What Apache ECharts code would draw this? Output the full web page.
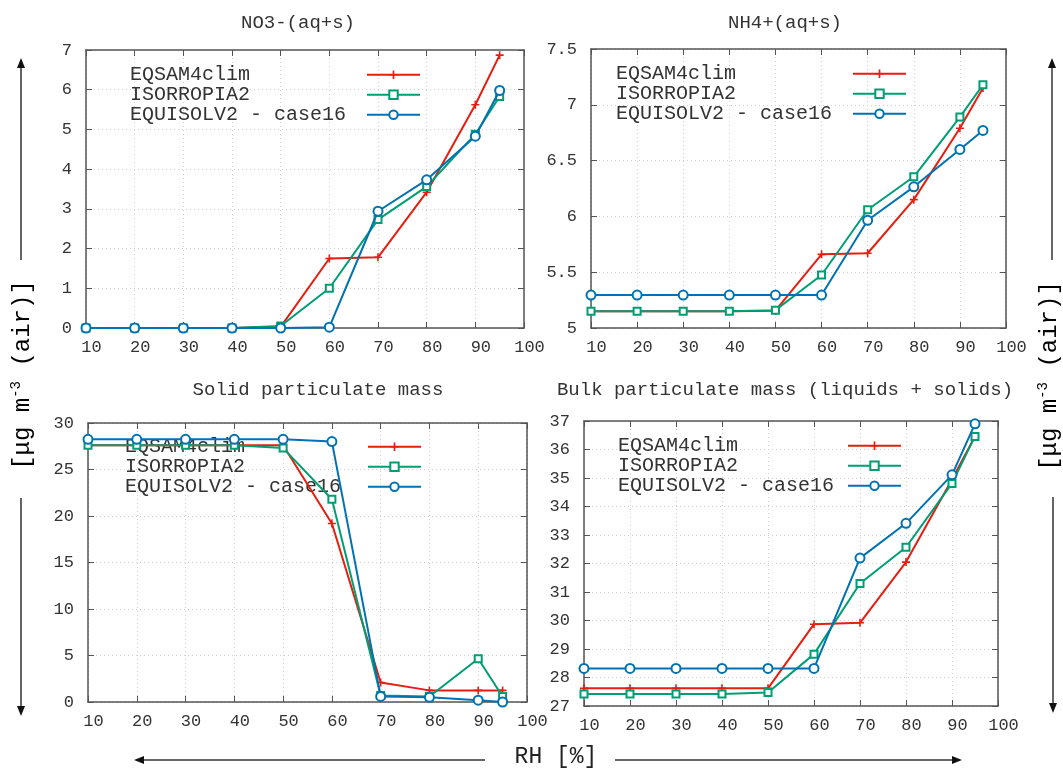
<!DOCTYPE html>
<html>
<head>
<meta charset="utf-8">
<script src="https://cdn.jsdelivr.net/npm/echarts@6/dist/echarts.min.js"></script>
<style>html,body{margin:0;padding:0;background:#fff;}#c{width:1063px;height:768px;}</style>
</head>
<body>
<div id="c"></div>
<script>
// ---- data ----
const rh = [10, 20, 30, 40, 50, 60, 70, 80, 90, 95];
const seriesNames = ['EQSAM4clim', 'ISORROPIA2', 'EQUISOLV2 - case16'];
const panelTitles = ['NO3-(aq+s)', 'NH4+(aq+s)', 'Solid particulate mass', 'Bulk particulate mass (liquids + solids)'];

const no3_eqsam = [0, 0, 0, 0, 0.03, 1.75, 1.78, 3.42, 5.62, 6.87];
const no3_isor  = [0, 0, 0, 0, 0.05, 1.0, 2.73, 3.56, 4.88, 5.83];
const no3_equi  = [0, 0, 0, 0, 0, 0.02, 2.94, 3.73, 4.83, 5.98];

const nh4_eqsam = [5.15, 5.15, 5.15, 5.15, 5.155, 5.66, 5.67, 6.15, 6.79, 7.15];
const nh4_isor  = [5.15, 5.15, 5.15, 5.15, 5.16, 5.475, 6.06, 6.355, 6.89, 7.18];
const nh4_equi  = [5.295, 5.295, 5.295, 5.295, 5.295, 5.295, 5.965, 6.265, 6.6, 6.77];

const solid_eqsam = [27.6, 27.6, 27.6, 27.6, 27.6, 19.2, 2.1, 1.25, 1.25, 1.25];
const solid_isor  = [27.6, 27.6, 27.6, 27.6, 27.3, 21.8, 0.7, 0.6, 4.65, 0.6];
const solid_equi  = [28.25, 28.25, 28.25, 28.25, 28.25, 28.0, 0.6, 0.5, 0.2, 0.0];

const bulk_eqsam = [27.62, 27.62, 27.62, 27.62, 27.62, 29.87, 29.92, 32.05, 34.95, 36.46];
const bulk_isor  = [27.42, 27.42, 27.42, 27.42, 27.47, 28.82, 31.3, 32.57, 34.81, 36.46];
const bulk_equi  = [28.32, 28.32, 28.32, 28.32, 28.32, 28.32, 32.19, 33.41, 35.11, 36.9];

const xTicks = {min: 10, max: 100, interval: 10};
const yTicks = [
  {min: 0, max: 7, interval: 1},
  {min: 5, max: 7.5, interval: 0.5},
  {min: 0, max: 30, interval: 5},
  {min: 27, max: 37, interval: 1}
];
const panelData = [
  [no3_eqsam, no3_isor, no3_equi],
  [nh4_eqsam, nh4_isor, nh4_equi],
  [solid_eqsam, solid_isor, solid_equi],
  [bulk_eqsam, bulk_isor, bulk_equi]
];

// ---- layout / style ----
const FONT = 'Liberation Mono';
const grids = [
  {left: 86, top: 50, width: 438, height: 278},
  {left: 591, top: 49, width: 415, height: 279},
  {left: 88, top: 423, width: 439, height: 279},
  {left: 584, top: 421, width: 414, height: 285}
];
const titlePos = [
  {x: 298, y: 23}, {x: 785, y: 23}, {x: 318, y: 390}, {x: 785, y: 390}
];
const legendPos = [
  {text: 130, icon: 366, row: 74},
  {text: 616, icon: 852, row: 73},
  {text: 125, icon: 367, row: 446},
  {text: 618, icon: 847, row: 445}
];
const colors = ['#e51e10', '#009e73', '#0072b2'];
const symbols = ['path://M-1,-5H1V-1H5V1H1V5H-1V1H-5V-1H-1Z', 'emptyRect', 'emptyCircle'];
const symbolSizes = [8, 7, 9];
const axisColor = '#555';

const xAxes = [], yAxes = [], series = [], legends = [], titles = [];
grids.forEach((g, i) => {
  const base = {
    gridIndex: i, type: 'value',
    axisLine: {show: true, onZero: false, lineStyle: {color: axisColor, width: 1.5}},
    axisTick: {show: true, inside: true, length: 6, lineStyle: {color: axisColor, width: 1}}
  };
  xAxes.push(Object.assign({}, base, {
    position: 'bottom', min: xTicks.min, max: xTicks.max, interval: xTicks.interval,
    axisLabel: {fontFamily: FONT, fontSize: 17, color: '#333', margin: 11, padding: [0, 0, 0, 11]},
    splitLine: {show: true, lineStyle: {type: [1, 3], color: '#cfcfcf', width: 1}}
  }));
  xAxes.push(Object.assign({}, base, {
    position: 'top', min: xTicks.min, max: xTicks.max, interval: xTicks.interval,
    axisLabel: {show: false}, splitLine: {show: false}
  }));
  yAxes.push(Object.assign({}, base, {
    position: 'left', min: yTicks[i].min, max: yTicks[i].max, interval: yTicks[i].interval,
    axisLabel: {fontFamily: FONT, fontSize: 17, color: '#333', margin: 14},
    splitLine: {show: true, lineStyle: {type: [1, 3], color: '#cfcfcf', width: 1}}
  }));
  yAxes.push(Object.assign({}, base, {
    position: 'right', min: yTicks[i].min, max: yTicks[i].max, interval: yTicks[i].interval,
    axisLabel: {show: false}, splitLine: {show: false}
  }));
  panelData[i].forEach((vals, k) => {
    series.push({
      type: 'line', name: seriesNames[k],
      xAxisIndex: 2 * i, yAxisIndex: 2 * i,
      data: rh.map((x, j) => [x, vals[j]]),
      symbol: symbols[k], symbolSize: symbolSizes[k], showAllSymbol: true,
      lineStyle: {color: colors[k], width: 2},
      itemStyle: {color: colors[k], borderColor: colors[k], borderWidth: k === 0 ? 0 : 1.6},
      z: 3 + k
    });
  });
  const lp = legendPos[i];
  // legend text column
  legends.push({
    orient: 'vertical', left: lp.text - 5, top: lp.row - 9.25, padding: 0,
    itemGap: 0, itemWidth: 0, itemHeight: 10.5, icon: 'none', selectedMode: false, z: 1,
    data: seriesNames,
    textStyle: {fontFamily: FONT, fontSize: 20, color: '#333', lineHeight: 18.5}
  });
  // legend sample column
  legends.push({
    orient: 'vertical', left: lp.icon, top: lp.row - 9.25, padding: 0,
    itemGap: 0, itemWidth: 53, itemHeight: 10.5, selectedMode: false, z: 1,
    data: seriesNames, formatter: () => ' ',
    textStyle: {fontFamily: FONT, fontSize: 20, color: '#333', lineHeight: 18.5}
  });
  titles.push({
    text: panelTitles[i], left: titlePos[i].x, top: titlePos[i].y, textAlign: 'center', textVerticalAlign: 'middle',
    padding: 0,
    textStyle: {fontFamily: FONT, fontSize: 19, fontWeight: 'normal', color: '#333'}
  });
});

// ---- decorations: axis name texts and arrows ----
function arrowV(x, y0, y1) {
  const dir = y1 < y0 ? -1 : 1;
  return [
    {type: 'line', shape: {x1: x, y1: y0, x2: x, y2: y1 - dir * 8}, style: {stroke: '#333', lineWidth: 1.5}},
    {type: 'polygon', shape: {points: [[x, y1], [x - 4, y1 - dir * 10], [x + 4, y1 - dir * 10]]}, style: {fill: '#111'}}
  ];
}
function arrowH(y, x0, x1) {
  const dir = x1 < x0 ? -1 : 1;
  return [
    {type: 'line', shape: {x1: x0, y1: y, x2: x1 - dir * 8, y2: y}, style: {stroke: '#333', lineWidth: 1.5}},
    {type: 'polygon', shape: {points: [[x1, y], [x1 - dir * 10, y - 4], [x1 - dir * 10, y + 4]]}, style: {fill: '#111'}}
  ];
}
const yLabelRich = {
  a: {fontFamily: FONT, fontSize: 24, color: '#222'},
  s: {fontFamily: FONT, fontSize: 14, color: '#222', padding: [0, 0, 13, 0]}
};
const yLabelText = '{a|[μg m}{s|-3}{a| (air)]}';
const graphic = [].concat(
  arrowV(21, 260, 58), arrowV(21, 498, 716),
  arrowV(1052, 260, 58), arrowV(1053, 497, 713),
  arrowH(760, 485, 134), arrowH(760, 615, 962),
  [
    {type: 'text', x: 23, y: 375, rotation: Math.PI / 2,
      style: {text: yLabelText, rich: yLabelRich, align: 'center', verticalAlign: 'middle'}},
    {type: 'text', x: 1050, y: 376, rotation: Math.PI / 2,
      style: {text: yLabelText, rich: yLabelRich, align: 'center', verticalAlign: 'middle'}},
    {type: 'text', x: 556, y: 757,
      style: {text: 'RH [%]', fontFamily: FONT, fontSize: 23, fill: '#222', align: 'center', verticalAlign: 'middle'}}
  ]
);

const chart = echarts.init(document.getElementById('c'), null, {renderer: 'canvas'});
chart.setOption({
  animation: false,
  backgroundColor: '#fff',
  title: titles,
  grid: grids,
  xAxis: xAxes,
  yAxis: yAxes,
  legend: legends,
  series: series,
  graphic: graphic
});
</script>
</body>
</html>
